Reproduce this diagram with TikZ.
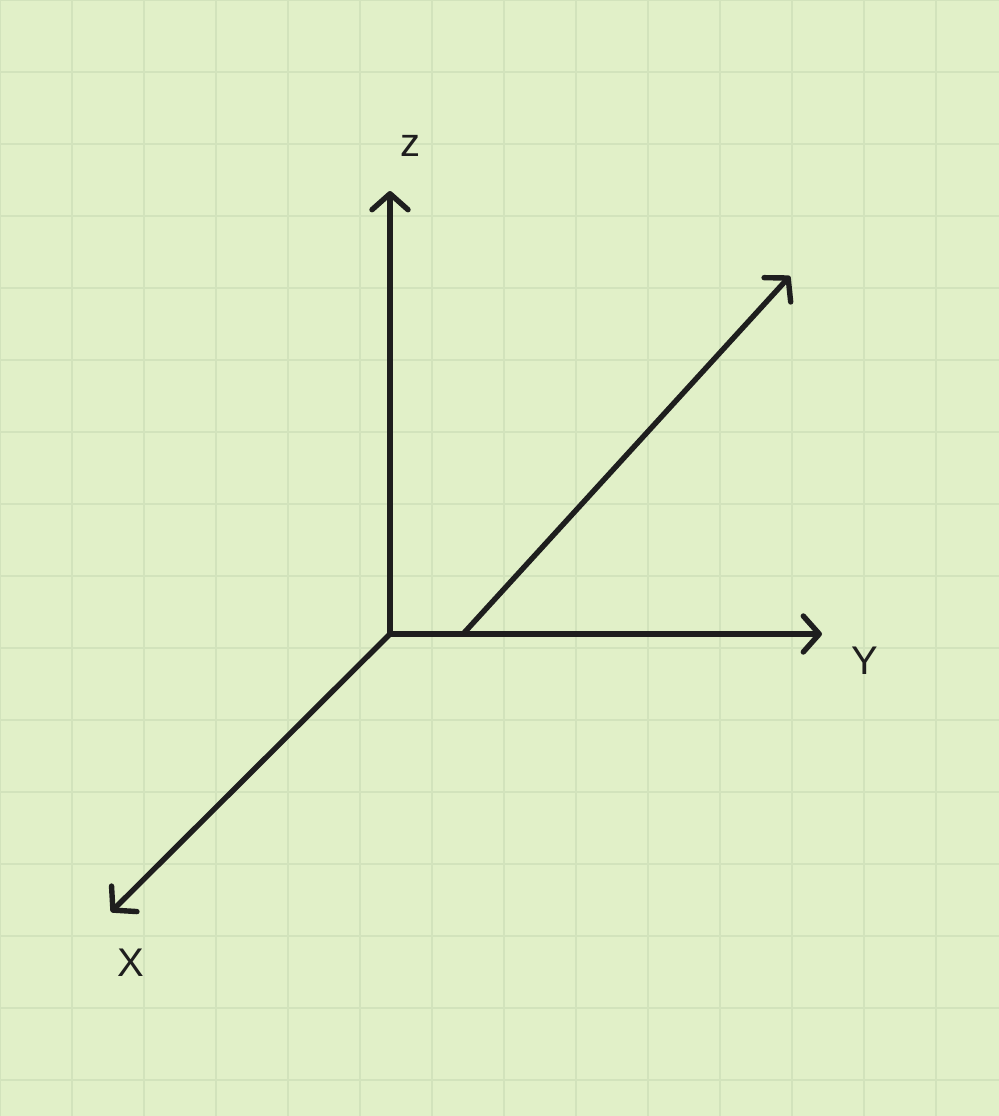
\documentclass[tikz,border=0pt]{standalone}
\usepackage{fontspec}
\setmainfont{Liberation Sans}
\usetikzlibrary{arrows.meta}
\definecolor{bg}{HTML}{E1F0C8}
\definecolor{gridc}{HTML}{D2E3BC}
\definecolor{ink}{HTML}{1E1E1E}
\tikzset{
  axis/.style={draw=ink, line width=2.7pt, line cap=round, line join=round,
    -{Straight Barb[length=8pt,width=18pt,line cap=round,line join=round]}},
  lbl/.style={text=ink, font=\fontsize{20}{20}\selectfont, inner sep=0pt},
  gridline/.style={draw=gridc, line width=1pt}
}
\begin{document}
\begin{tikzpicture}[x=0.5pt,y=-0.5pt]
\fill[bg] (0,0) rectangle (999,1116);
\useasboundingbox (0,0) rectangle (999,1116);
\foreach \i in {0,72,...,999} \draw[gridline] (\i,0) -- (\i,1116);
\foreach \j in {0,72,...,1116} \draw[gridline] (0,\j) -- (999,\j);
\coordinate (O) at (390,634);
\coordinate (Zend) at (390,191);
\coordinate (Yend) at (822,634);
\coordinate (Xend) at (111,912);
\coordinate (D0) at (463,634);
\coordinate (Dend) at (790,276);
\draw[axis] (O) -- (Zend);
\draw[axis] (O) -- (Yend);
\draw[axis] (O) -- (Xend);
\draw[axis] (D0) -- (Dend);
\node[lbl] (zl) at (410,146) {z};
\node[lbl] (yl) at (865,661) {Y};
\node[lbl] (xl) at (131,963) {X};
\end{tikzpicture}
\end{document}
